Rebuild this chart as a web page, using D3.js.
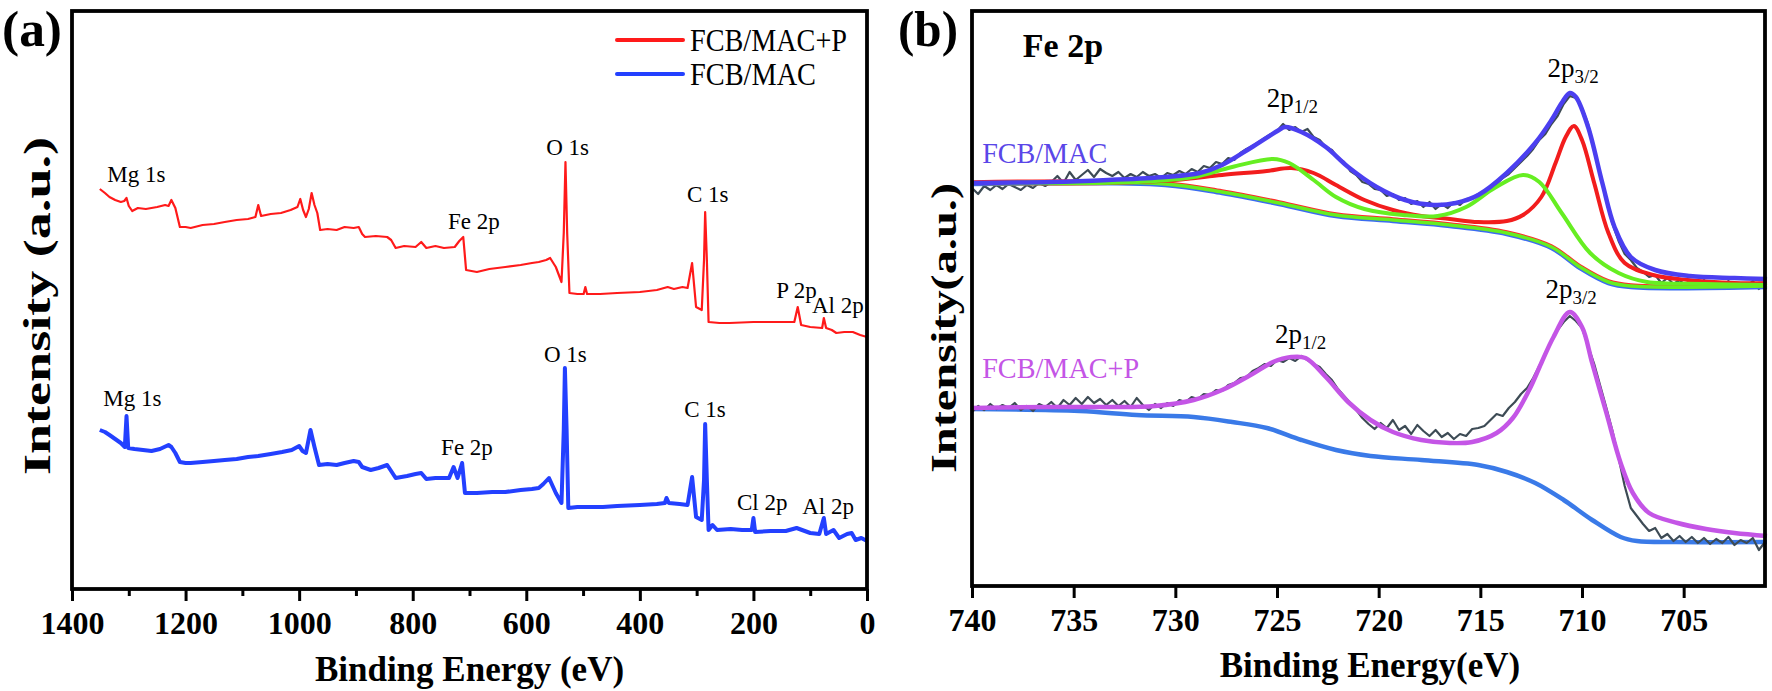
<!DOCTYPE html>
<html><head><meta charset="utf-8">
<script src="https://cdn.jsdelivr.net/npm/d3@7"></script>
<style>
body{margin:0;background:#fff}
svg{display:block}
text{font-family:"Liberation Serif","Times New Roman",serif;fill:#000}
</style>
</head><body>
<svg id="c" width="1772" height="691"></svg>
<script>
// ---------- Panel (a): XPS survey, [binding energy eV, intensity a.u.] ----------
const surveyMACP = [[1351,400],[1342,396],[1334,392],[1324,389],[1314,387],[1308,388],[1304,391],[1300,383],[1294,378],[1284,381],[1270,380],[1250,382],[1236,384],[1230,383],[1225,389],[1218,381],[1210,362],[1200,362],[1191,361],[1170,364],[1150,365],[1131,367],[1110,369],[1090,370],[1077,372],[1072,384],[1067,373],[1050,375],[1032,376],[1015,379],[1003,382],[998,390],[993,379],[988,372],[983,380],[978,396],[973,384],[968,376],[963,359],[950,360],[934,359],[920,362],[904,361],[895,362],[889,355],[884,352],[865,353],[845,352],[838,349],[830,341],[815,343],[795,342],[785,347],[776,341],[760,343],[745,341],[726,342],[718,348],[711,352],[706,319],[687,317],[665,320],[637,322],[610,324],[590,326],[578,327],[565,329],[558,331],[548,322],[538,307],[534,356],[531,427],[528,356],[524,296],[510,295],[499,295],[496,302],[493,295],[470,295],[440,296],[400,297],[370,299],[351,302],[340,300],[325,302],[316,301],[308,326],[301,282],[291,279],[287,329],[285,377],[282,329],[279,267],[260,266],[242,266],[200,267],[170,267],[143,267],[128,267],[122,282],[116,264],[100,262],[79,261],[76,271],[72,261],[62,259],[54,256],[40,257],[25,257],[12,254],[0,252]];
const surveyMAC = [[1351,159],[1342,157],[1334,154],[1324,150],[1314,146],[1307,142],[1304,173],[1301,141],[1290,140],[1275,139],[1260,138],[1245,140],[1230,144],[1225,142],[1218,136],[1210,127],[1200,126],[1191,126],[1170,127],[1150,128],[1131,129],[1110,130],[1090,132],[1072,133],[1050,135],[1030,137],[1013,139],[1000,143],[994,138],[988,136],[980,159],[973,142],[965,124],[950,125],[934,124],[920,126],[904,128],[895,127],[889,122],[874,119],[860,121],[845,124],[838,118],[830,111],[810,113],[795,115],[785,116],[776,110],[760,111],[736,111],[728,122],[721,111],[713,126],[708,96],[687,96],[660,97],[637,97],[610,99],[590,100],[578,101],[570,105],[560,111],[548,96],[538,86],[534,159],[532,221],[529,159],[526,81],[510,82],[489,82],[465,82],[440,83],[400,84],[370,85],[356,86],[353,91],[349,86],[330,85],[316,84],[308,112],[301,72],[291,69],[287,109],[285,165],[282,109],[279,59],[272,64],[264,59],[240,60],[220,59],[203,59],[200,71],[197,57],[170,58],[143,58],[124,61],[100,56],[84,55],[76,71],[72,55],[59,59],[49,51],[35,55],[27,56],[20,49],[10,51],[0,48]];
const surveyTicks = [1400,1200,1000,800,600,400,200,0];
const surveyMinor = [1300,1100,900,700,500,300,100];
const surveyLabelsMACP = [["Mg 1s",1338,407],["Fe 2p",738,360],["O 1s",565,434],["C 1s",317,387],["P 2p",160,291],["Al 2p",97,276]];
const surveyLabelsMAC = [["Mg 1s",1345,183],["Fe 2p",750,134],["O 1s",569,227],["C 1s",322,172],["Cl 2p",229,79],["Al 2p",114,75]];
const legendNames = ["FCB/MAC+P","FCB/MAC"];

// ---------- Panel (b): Fe 2p high resolution ----------
const rawMAC = [[740.0,398],[739.7,392],[739.4,400],[739.1,396],[738.8,401],[738.5,397],[738.2,402],[737.9,399],[737.6,396],[737.3,401],[737.0,398],[736.7,403],[736.4,400],[736.1,404],[735.8,410],[735.5,403],[735.2,414],[734.9,406],[734.6,411],[734.3,416],[734.0,409],[733.7,417],[733.4,413],[733.1,410],[732.8,414],[732.5,408],[732.2,412],[731.9,409],[731.6,414],[731.3,410],[731.0,412],[730.7,408],[730.4,413],[730.1,411],[729.8,415],[729.5,412],[729.2,417],[728.9,414],[728.6,420],[728.3,418],[728.0,424],[727.7,422],[727.4,428],[727.1,426],[726.8,433],[726.5,437],[726.2,440],[725.9,444],[725.6,448],[725.3,452],[725.0,455],[724.7,462],[724.4,456],[724.1,459],[723.8,454],[723.5,457],[723.2,449],[722.9,446],[722.6,439],[722.3,436],[722.0,428],[721.7,424],[721.4,415],[721.1,411],[720.8,404],[720.5,402],[720.2,397],[719.9,396],[719.6,390],[719.3,392],[719.0,386],[718.7,388],[718.4,382],[718.1,385],[717.8,379],[717.5,384],[717.2,377],[716.9,382],[716.6,378],[716.3,384],[716.0,381],[715.7,387],[715.4,388],[715.1,392],[714.8,394],[714.5,399],[714.2,402],[713.9,408],[713.6,412],[713.3,418],[713.0,424],[712.7,430],[712.4,437],[712.1,446],[711.8,452],[711.5,462],[711.2,470],[710.9,482],[710.6,490],[710.3,488],[710.0,478],[709.7,462],[709.4,438],[709.1,410],[708.8,385],[708.5,362],[708.2,345],[707.9,332],[707.6,326],[707.3,318],[707.0,314],[706.7,309],[706.4,311],[706.1,303],[705.8,308],[705.5,302],[705.2,306],[704.9,300],[704.6,305],[704.3,301],[704.0,306],[703.7,299],[703.4,304],[703.1,300],[702.8,305],[702.5,298],[702.2,303],[701.9,300],[701.6,305],[701.3,297],[701.0,302]];
const fitMAC = [[740,403],[736.1,404],[733.3,406],[730.5,409],[728.8,413],[727.7,421],[726.3,438],[724.9,456],[724.6,459],[723.8,454],[722.6,439],[721.5,419],[720.1,399],[718.7,386],[717.3,381],[716.2,383],[715.1,391],[713.7,413],[712.3,443],[711.5,466],[711.0,483],[710.6,493],[710.3,489],[709.7,459],[709.0,403],[708.4,359],[707.6,329],[706.4,316],[704.7,310],[702.5,308],[700.9,307]];
const peakRed = [[740,403],[733.3,403],[730.0,406],[727.7,411],[725.5,415],[724.3,418],[723.2,413],[722.1,401],[720.7,386],[719.3,376],[717.9,370],[716.5,367],[715.1,364],[713.7,365],[712.9,371],[712.0,389],[711.3,423],[710.8,449],[710.4,460],[710.0,446],[709.4,403],[708.7,353],[707.9,323],[706.5,311],[704.8,306],[702.5,303],[700.9,303]];
const peakGreen = [[740,403],[731.9,404],[729.1,409],[727.2,419],[725.2,427],[724.4,423],[723.2,406],[722.1,389],[720.7,377],[718.8,371],[717.1,370],[715.7,379],[714.3,398],[712.9,411],[712.1,404],[711.0,373],[709.6,333],[708.2,313],[706.8,304],[704.0,302],[700.9,301]];
const bgMAC = [[740,403],[730.5,402],[727.7,394],[724.9,383],[722.1,371],[719.3,366],[716.5,361],[713.7,353],[711.5,339],[710.1,319],[708.7,304],[707.6,300],[700.9,300]];
const rawMACP = [[740.0,174],[739.7,180],[739.4,176],[739.1,182],[738.8,177],[738.5,181],[738.2,178],[737.9,183],[737.6,176],[737.3,180],[737.0,175],[736.7,182],[736.4,179],[736.1,184],[735.8,178],[735.5,186],[735.2,181],[734.9,188],[734.6,182],[734.3,189],[734.0,183],[733.7,187],[733.4,181],[733.1,186],[732.8,180],[732.5,185],[732.2,179],[731.9,188],[731.6,181],[731.3,176],[731.0,182],[730.7,178],[730.4,183],[730.1,180],[729.8,186],[729.5,184],[729.2,189],[728.9,187],[728.6,192],[728.3,191],[728.0,196],[727.7,195],[727.4,201],[727.1,203],[726.8,208],[726.5,209],[726.2,215],[725.9,218],[725.6,222],[725.3,220],[725.0,226],[724.7,224],[724.4,228],[724.1,225],[723.8,230],[723.5,226],[723.2,222],[722.9,219],[722.6,212],[722.3,206],[722.0,197],[721.7,190],[721.4,183],[721.1,176],[720.8,168],[720.5,162],[720.2,157],[719.9,163],[719.6,158],[719.3,166],[719.0,156],[718.7,160],[718.4,152],[718.1,161],[717.8,155],[717.5,150],[717.2,156],[716.9,149],[716.6,153],[716.3,147],[716.0,152],[715.7,150],[715.4,157],[715.1,158],[714.8,160],[714.5,166],[714.2,172],[713.9,170],[713.6,178],[713.3,184],[713.0,192],[712.7,198],[712.4,208],[712.1,220],[711.8,232],[711.5,245],[711.2,256],[710.9,264],[710.6,270],[710.3,265],[710.0,258],[709.7,240],[709.4,222],[709.1,200],[708.8,178],[708.5,155],[708.2,128],[707.9,100],[707.6,78],[707.3,70],[707.0,62],[706.7,55],[706.4,58],[706.1,48],[705.8,52],[705.5,45],[705.2,50],[704.9,44],[704.6,49],[704.3,43],[704.0,48],[703.7,42],[703.4,47],[703.1,43],[702.8,49],[702.5,41],[702.2,46],[701.9,43],[701.6,48],[701.3,36],[701.0,44]];
const fitMACP = [[740,178],[736.1,179],[733.3,179],[731.0,180],[729.1,186],[727.7,196],[726.3,211],[725.2,224],[724.3,229],[723.6,228],[722.6,209],[721.5,184],[720.4,166],[719.3,154],[717.9,146],[716.5,143],[715.4,144],[714.2,153],[713.4,168],[712.6,196],[712.0,223],[711.4,249],[710.6,274],[710.0,259],[709.5,223],[708.8,173],[708.1,123],[707.5,93],[706.7,73],[705.3,63],[703.9,57],[702.5,53],[700.9,50]];
const bgMACP = [[740,177],[734.7,175],[731.9,171],[729.1,169],[727.2,164],[725.5,158],[723.8,146],[722.1,136],[720.4,130],[717.9,126],[715.1,121],[713.7,114],[712.3,103],[710.9,86],[709.5,66],[708.1,49],[707.3,45],[705.4,44],[700.9,44]];
const feTicks = [740,735,730,725,720,715,710,705];
// [main, subscript, eV, intensity]
const feLabels = [["2p","1/2",725.5,479],["2p","3/2",711.7,509],["2p","1/2",725.1,243],["2p","3/2",711.8,288]];
const sampleLabels = [["FCB/MAC",739.5,423,"#5a46e8"],["FCB/MAC+P",739.5,208,"#c455e6"]];

const svg = d3.select("#c");

function frame(g, x0, x1, y0, y1){
  g.append("rect").attr("x",x0).attr("y",y0).attr("width",x1-x0).attr("height",y1-y0)
   .attr("fill","none").attr("stroke","#000").attr("stroke-width",3.8);
}
function styleAxis(ax){
  ax.select(".domain").remove();
  ax.selectAll(".tick line").attr("stroke","#000").attr("stroke-width",3);
  ax.selectAll(".tick text").style("font-family","'Liberation Serif',serif").style("font-weight","bold").style("font-size","32px").attr("fill","#000");
}

// ---------- Panel a ----------
const A = {l:72, r:867, t:11, b:589};
const xa = d3.scaleLinear().domain([1400,0]).range([A.l,A.r]);
const ya = d3.scaleLinear().domain([0,578]).range([A.b,A.t]);
const ga = svg.append("g");
const lineA = d3.line().x(d=>xa(d[0])).y(d=>ya(d[1]));
ga.append("path").datum(surveyMAC).attr("d",lineA).attr("fill","none").attr("stroke","#2340ff").attr("stroke-width",4).attr("stroke-linejoin","round");
ga.append("path").datum(surveyMACP).attr("d",lineA).attr("fill","none").attr("stroke","#ff1a1a").attr("stroke-width",2.2).attr("stroke-linejoin","round");
const axA = ga.append("g").attr("transform",`translate(0,${A.b})`).call(d3.axisBottom(xa).tickValues(surveyTicks).tickSize(12).tickPadding(10).tickFormat(d3.format("d")));
styleAxis(axA);
const axAm = ga.append("g").attr("transform",`translate(0,${A.b})`).call(d3.axisBottom(xa).tickValues(surveyMinor).tickSize(7).tickFormat(""));
axAm.select(".domain").remove();
axAm.selectAll(".tick line").attr("stroke","#000").attr("stroke-width",3);
frame(ga, A.l, A.r, A.t, A.b);
surveyLabelsMACP.concat(surveyLabelsMAC).forEach(l=>{
  ga.append("text").attr("x",xa(l[1])).attr("y",ya(l[2])).style("font-size","23px").text(l[0]);
});
// legend
const legCol = ["#ff1a1a","#2340ff"];
legendNames.forEach((n,i)=>{
  const y = 40 + i*34;
  ga.append("line").attr("x1",617).attr("x2",683).attr("y1",y).attr("y2",y).attr("stroke",legCol[i]).attr("stroke-width",4).attr("stroke-linecap","round");
  ga.append("text").attr("x",690).attr("y",y+11).style("font-size","31px")
    .attr("textLength", i===0?157:126).attr("lengthAdjust","spacingAndGlyphs").text(n);
});
ga.append("text").attr("x",2).attr("y",46).style("font-size","50px").style("font-weight","bold")
  .attr("textLength",60).attr("lengthAdjust","spacingAndGlyphs").text("(a)");
ga.append("text").attr("transform",`translate(50,306) rotate(-90)`).attr("text-anchor","middle")
  .style("font-size","37px").style("font-weight","bold")
  .attr("textLength",338).attr("lengthAdjust","spacingAndGlyphs").text("Intensity (a.u.)");
ga.append("text").attr("x",(A.l+A.r)/2).attr("y",681).attr("text-anchor","middle")
  .style("font-size","35px").style("font-weight","bold").text("Binding Energy (eV)");

// ---------- Panel b ----------
const B = {l:972, r:1765, t:11, b:586};
const xb = d3.scaleLinear().domain([740,701]).range([B.l,B.r]);
const yb = d3.scaleLinear().domain([0,575]).range([B.b,B.t]);
const gb = svg.append("g");
const lineR = d3.line().x(d=>xb(d[0])).y(d=>yb(d[1]));
const lineS = d3.line().curve(d3.curveCatmullRom.alpha(0.5)).x(d=>xb(d[0])).y(d=>yb(d[1]));
function p(g, data, gen, col, w, dy){
  g.append("path").datum(data).attr("d",gen).attr("fill","none").attr("stroke",col).attr("stroke-width",w)
   .attr("stroke-linejoin","round").attr("transform",`translate(0,${dy||0})`);
}
// upper
p(gb, rawMAC, lineR, "#3d4b55", 2.2);
p(gb, bgMAC, lineS, "#3b6cf0", 4.5, 1);
p(gb, bgMAC, lineS, "#ff2a2a", 4, -0.8);
p(gb, bgMAC, lineS, "#66ee22", 3.5);
p(gb, peakRed, lineS, "#f21d1d", 4);
p(gb, peakGreen, lineS, "#66ee22", 4);
p(gb, fitMAC, lineS, "#4b3ff0", 4.5);
// lower
p(gb, bgMACP, lineS, "#3a7ae8", 4.5);
p(gb, rawMACP, lineR, "#3d4b55", 2.2);
p(gb, fitMACP, lineS, "#c455e6", 4.5);
const axB = gb.append("g").attr("transform",`translate(0,${B.b})`).call(d3.axisBottom(xb).tickValues(feTicks).tickSize(12).tickPadding(10).tickFormat(d3.format("d")));
styleAxis(axB);
frame(gb, B.l, B.r, B.t, B.b);
feLabels.forEach(l=>{
  const t = gb.append("text").attr("x",xb(l[2])).attr("y",yb(l[3])).style("font-size","27px");
  t.append("tspan").text(l[0]);
  t.append("tspan").attr("dy",6).style("font-size","19px").text(l[1]);
});
sampleLabels.forEach(l=>{
  gb.append("text").attr("x",xb(l[1])).attr("y",yb(l[2])).style("font-size","29px").attr("fill",l[3]).style("fill",l[3])
    .attr("textLength", l[0].length>7?157:125).attr("lengthAdjust","spacingAndGlyphs").text(l[0]);
});
gb.append("text").attr("x",xb(737.5)).attr("y",yb(529)).style("font-size","34px").style("font-weight","bold").text("Fe 2p");
gb.append("text").attr("x",898).attr("y",46).style("font-size","50px").style("font-weight","bold")
  .attr("textLength",60).attr("lengthAdjust","spacingAndGlyphs").text("(b)");
gb.append("text").attr("transform",`translate(956,328) rotate(-90)`).attr("text-anchor","middle")
  .style("font-size","36px").style("font-weight","bold")
  .attr("textLength",290).attr("lengthAdjust","spacingAndGlyphs").text("Intensity(a.u.)");
gb.append("text").attr("x",1370).attr("y",677).attr("text-anchor","middle")
  .style("font-size","35px").style("font-weight","bold").text("Binding Energy(eV)");
</script>
</body></html>
